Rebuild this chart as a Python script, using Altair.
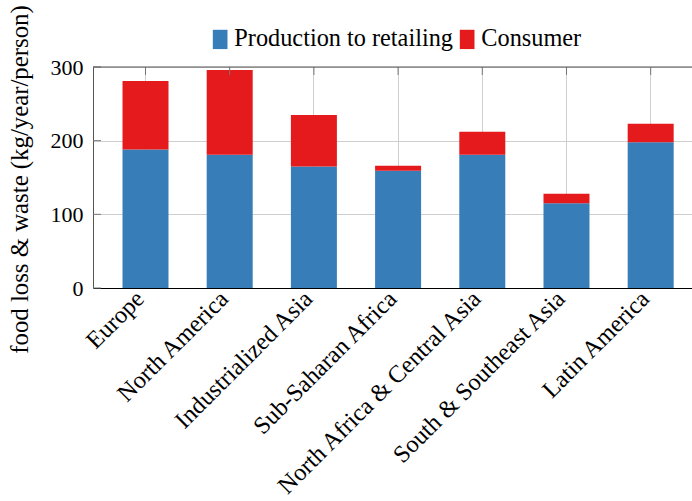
import altair as alt
import pandas as pd

regions = ["Europe", "North America", "Industrialized Asia", "Sub-Saharan Africa",
           "North Africa & Central Asia", "South & Southeast Asia", "Latin America"]
production = [188, 181, 165, 159, 181, 115, 198]
consumer = [93, 115, 70, 7, 31, 13, 25]
series = ["Production to retailing", "Consumer"]
y_ticks = [0, 100, 200, 300]
colors = ["#377eb8", "#e41a1c"]

rows = []
for i, r in enumerate(regions):
    rows.append({"region": r, "series": series[0], "value": production[i], "ord": 0})
    rows.append({"region": r, "series": series[1], "value": consumer[i], "ord": 1})
df = pd.DataFrame(rows)
df_regions = pd.DataFrame({"region": regions})
df_ticks = pd.DataFrame({"v": y_ticks})
df_one = pd.DataFrame({"a": [0]})

FONT = "Liberation Serif"
W, H = 599, 221

xscale = alt.Scale(domain=regions, paddingInner=0.4537, paddingOuter=0.284, align=0.617)
yscale = alt.Scale(domain=[0, 300], nice=False)

bars = alt.Chart(df).mark_bar().encode(
    x=alt.X("region:N", sort=regions, scale=xscale,
            axis=alt.Axis(title=None, labelAngle=-45, labelAlign="right", labelBaseline="middle",
                          labelPadding=7, labelOffset=-5, ticks=False, domainColor="#000000",
                          domainWidth=1.2, grid=True, gridColor="#cfcfcf", gridWidth=1,
                          labelFontSize=24.3, labelFont=FONT, labelColor="#000000", labelLimit=0)),
    y=alt.Y("value:Q", stack="zero", scale=yscale,
            axis=alt.Axis(title="food loss & waste (kg/year/person)", values=y_ticks,
                          ticks=False, domainColor="#555555", grid=True, gridColor="#cfcfcf",
                          labelFontSize=22, labelFont=FONT, labelColor="#000000", labelPadding=10,
                          titleFont=FONT, titleFontSize=24.8, titleFontWeight="normal",
                          titleColor="#000000", titleAngle=-90, titleX=-73, titleY=112,
                          titleAlign="center", titleBaseline="middle", titleLimit=0)),
    color=alt.Color("series:N", scale=alt.Scale(domain=series, range=colors),
                    legend=alt.Legend(title=None, orient="none", legendX=115, legendY=-40,
                                      direction="horizontal",
                                      symbolType="M-0.76,-1H0.76V1H-0.76Z",
                                      symbolSize=372, symbolStrokeWidth=0,
                                      labelFont=FONT, labelFontSize=24.3, labelColor="#000000",
                                      labelOffset=2, columnPadding=2, labelLimit=0)),
    order=alt.Order("ord:Q"),
)

left_ticks = alt.Chart(df_ticks).mark_rule(color="#777777", strokeWidth=1).encode(
    y=alt.Y("v:Q", scale=yscale), x=alt.value(0), x2=alt.value(8)
)
top_ticks = alt.Chart(df_regions).mark_rule(color="#777777", strokeWidth=1).encode(
    x=alt.X("region:N", sort=regions, scale=xscale), y=alt.value(0), y2=alt.value(8)
)
top_border = alt.Chart(df_one).mark_rule(color="#555555", strokeWidth=1.2).encode(
    x=alt.value(0), x2=alt.value(W), y=alt.value(0)
)

chart = alt.layer(bars, left_ticks, top_ticks, top_border).properties(
    width=W, height=H,
    autosize=alt.AutoSizeParams(type="none"),
    padding={"left": 93, "top": 67, "right": 0, "bottom": 501 - 67 - H},
).configure_view(stroke=None).configure(font=FONT)

chart.save("out.html", embed_options={"renderer": "svg", "actions": False})
